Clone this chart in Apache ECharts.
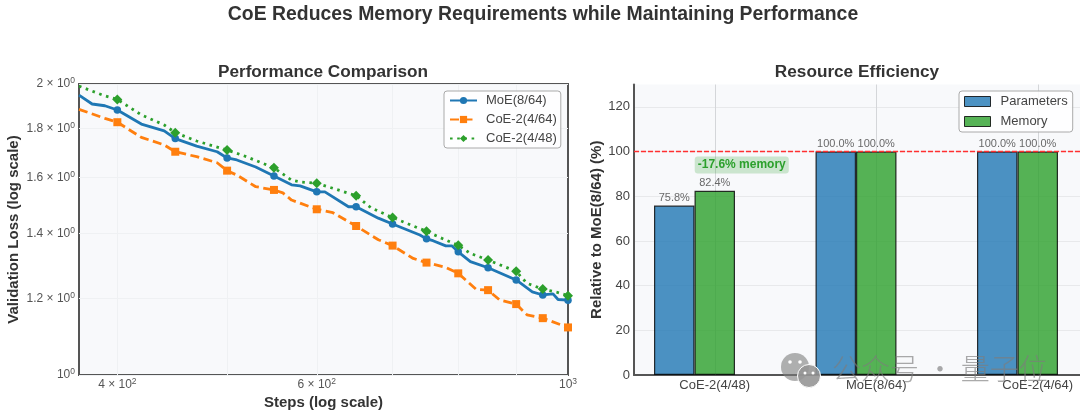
<!DOCTYPE html>
<html>
<head>
<meta charset="utf-8">
<style>
  html, body { margin: 0; background: #fff; }
  #chart { width: 1080px; height: 415px; }
</style>
<script src="https://cdn.jsdelivr.net/npm/echarts@6/dist/echarts.min.js"></script>
</head>
<body>
<div id="chart"></div>
<script>
// left panel
var moeSteps = [370, 380, 390, 400, 420, 440, 450, 470, 490, 500, 510, 530, 550, 570, 580, 600, 610, 640, 650, 680, 700, 740, 750, 760, 780, 790, 800, 820, 850, 900, 930, 950, 970, 980, 1000];
var moeLoss = [1.948, 1.907, 1.899, 1.880, 1.818, 1.789, 1.756, 1.725, 1.702, 1.677, 1.669, 1.641, 1.606, 1.573, 1.569, 1.547, 1.547, 1.493, 1.493, 1.453, 1.433, 1.396, 1.383, 1.377, 1.360, 1.360, 1.341, 1.310, 1.291, 1.254, 1.219, 1.210, 1.213, 1.197, 1.195];
var coe64Steps = [370, 390, 400, 420, 440, 450, 470, 490, 500, 510, 530, 550, 560, 570, 580, 600, 620, 650, 680, 700, 730, 750, 780, 800, 830, 850, 870, 900, 920, 950, 1000];
var coe64Loss = [1.883, 1.843, 1.826, 1.761, 1.730, 1.702, 1.682, 1.658, 1.627, 1.610, 1.566, 1.554, 1.543, 1.517, 1.506, 1.484, 1.472, 1.426, 1.380, 1.361, 1.320, 1.307, 1.292, 1.274, 1.226, 1.224, 1.196, 1.184, 1.154, 1.145, 1.120];
var coe48Steps = [370, 390, 400, 420, 440, 450, 470, 500, 520, 550, 570, 580, 600, 650, 670, 700, 750, 780, 800, 820, 850, 900, 920, 950, 980, 1000];
var coe48Loss = [1.990, 1.944, 1.928, 1.858, 1.814, 1.781, 1.746, 1.709, 1.682, 1.638, 1.591, 1.584, 1.579, 1.533, 1.489, 1.455, 1.408, 1.379, 1.362, 1.336, 1.315, 1.280, 1.244, 1.227, 1.217, 1.208];
var markerSteps = [400, 450, 500, 550, 600, 650, 700, 750, 800, 850, 900, 950, 1000];
var xTickValues = [400, 600, 1000];
var xTickLabels = ['4 × 10{s|2}', '6 × 10{s|2}', '10{s|3}'];
var xGridValues = [400, 500, 600, 700, 800, 900];
var yTickValues = [1, 1.2, 1.4, 1.6, 1.8, 2];
var yTickLabels = ['10{s|0}', '1.2 × 10{s|0}', '1.4 × 10{s|0}', '1.6 × 10{s|0}', '1.8 × 10{s|0}', '2 × 10{s|0}'];

// right panel
var models = ['CoE-2(4/48)', 'MoE(8/64)', 'CoE-2(4/64)'];
var parameters = [75.8, 100, 100];
var memory = [82.4, 100, 100];
var baseline = [[0, 100], [1, 100]];

var FONT = '"Liberation Sans", Arial, sans-serif';
var PLOT_BG = '#f8f9fb';
var GRID_LINE = '#eff1f3';

function lossPoints(steps, loss) {
  return steps.map(function (s, i) {
    var item = { value: [s, loss[i]] };
    if (markerSteps.indexOf(s) < 0) item.symbol = 'none';
    return item;
  });
}

function lossSeries(name, steps, loss, color, symbol, size, lineType) {
  return {
    name: name,
    type: 'line',
    xAxisIndex: 0,
    yAxisIndex: 0,
    data: lossPoints(steps, loss),
    symbol: symbol,
    symbolSize: size,
    showAllSymbol: true,
    clip: true,
    itemStyle: { color: color },
    lineStyle: { color: color, width: 2.8, type: lineType },
    animation: false
  };
}

function pickLabel(values, labels) {
  return function (v) {
    for (var i = 0; i < values.length; i++) {
      if (Math.abs(values[i] - v) < 1e-6 * values[i]) return labels[i];
    }
    return '';
  };
}

var supRich = { s: { fontSize: 8.5, color: '#555', fontFamily: FONT, padding: [0, 0, 6, 0] } };

var chart = echarts.init(document.getElementById('chart'), null, { renderer: 'canvas' });

chart.setOption({
  animation: false,
  backgroundColor: '#fff',
  textStyle: { fontFamily: FONT },
  title: [
    { text: 'CoE Reduces Memory Requirements while Maintaining Performance', left: 538, top: 0, textAlign: 'center', textStyle: { fontSize: 19.4, fontWeight: 'bold', color: '#333', fontFamily: FONT } },
    { text: 'Performance Comparison', left: 318, top: 59, textAlign: 'center', textStyle: { fontSize: 17.2, fontWeight: 'bold', color: '#333', fontFamily: FONT } },
    { text: 'Resource Efficiency', left: 852, top: 59, textAlign: 'center', textStyle: { fontSize: 17.2, fontWeight: 'bold', color: '#333', fontFamily: FONT } }
  ],
  legend: [
    {
      data: ['MoE(8/64)', 'CoE-2(4/64)', 'CoE-2(4/48)'],
      orient: 'vertical', left: 444, top: 91, padding: [3, 4, 3, 5], itemWidth: 27, itemHeight: 9, itemGap: 6,
      backgroundColor: 'rgba(255,255,255,0.85)', borderColor: '#aaa', borderWidth: 1, borderRadius: 3,
      textStyle: { fontSize: 13, color: '#444', fontFamily: FONT, padding: [0, 0, 0, 4] }
    },
    {
      data: [{ name: 'Parameters', icon: 'rect' }, { name: 'Memory', icon: 'rect' }],
      orient: 'vertical', left: 959, top: 91, padding: [4, 5, 4, 5], itemWidth: 26, itemHeight: 10, itemGap: 7,
      itemStyle: { borderWidth: 1 },
      backgroundColor: 'rgba(255,255,255,0.85)', borderColor: '#aaa', borderWidth: 1, borderRadius: 3,
      textStyle: { fontSize: 13, color: '#444', fontFamily: FONT, padding: [0, 0, 0, 5] }
    }
  ],
  grid: [
    { left: 79, top: 84, width: 489, height: 291, outerBoundsMode: 'none', show: true, backgroundColor: PLOT_BG, borderColor: '#555', borderWidth: 2 },
    { left: 634, top: 84.5, width: 484.5, height: 290.5, outerBoundsMode: 'none', show: true, backgroundColor: PLOT_BG, borderWidth: 0 }
  ],
  xAxis: [
    {
      gridIndex: 0, type: 'log', min: 370, max: 1000,
      name: 'Steps (log scale)', nameLocation: 'middle', nameGap: 20,
      nameTextStyle: { fontSize: 15, fontWeight: 'bold', color: '#333', fontFamily: FONT },
      axisLine: { show: false },
      axisTick: { show: false, customValues: xGridValues },
      axisLabel: { customValues: xTickValues, formatter: pickLabel(xTickValues, xTickLabels), rich: supRich, fontSize: 12, color: '#555', margin: 2, hideOverlap: false },
      splitLine: { show: true, lineStyle: { color: GRID_LINE, width: 1 } }
    },
    {
      gridIndex: 1, type: 'category', data: models,
      axisLine: { lineStyle: { color: '#555', width: 2 } },
      axisTick: { show: false },
      axisLabel: { fontSize: 13, color: '#444', margin: 4, interval: 0 },
      splitLine: { show: false }
    },
    // hidden axis so the 100% reference line can span the whole plot
    { gridIndex: 1, type: 'value', min: 0, max: 1, show: false, splitLine: { show: false } }
  ],
  yAxis: [
    {
      gridIndex: 0, type: 'log', min: 1, max: 2,
      name: 'Validation Loss (log scale)', nameLocation: 'middle', nameGap: 58,
      nameTextStyle: { fontSize: 15, fontWeight: 'bold', color: '#333', fontFamily: FONT },
      axisLine: { show: false },
      axisTick: { show: false, customValues: yTickValues },
      axisLabel: { customValues: yTickValues, formatter: pickLabel(yTickValues, yTickLabels), rich: supRich, fontSize: 12, color: '#555', margin: 4 },
      splitLine: { show: true, lineStyle: { color: GRID_LINE, width: 1 } }
    },
    {
      gridIndex: 1, type: 'value', min: 0, max: 130, interval: 20,
      name: 'Relative to MoE(8/64) (%)', nameLocation: 'middle', nameGap: 29,
      nameTextStyle: { fontSize: 15, fontWeight: 'bold', color: '#333', fontFamily: FONT },
      axisLine: { show: true, lineStyle: { color: '#555', width: 2 } },
      axisTick: { show: false },
      axisLabel: { fontSize: 13, color: '#444', margin: 4, showMaxLabel: false },
      splitLine: { show: true, showMaxLine: false, lineStyle: { color: '#e8e9eb', width: 1 } }
    }
  ],
  series: [
    lossSeries('MoE(8/64)', moeSteps, moeLoss, '#1f77b4', 'circle', 7.5, 'solid'),
    lossSeries('CoE-2(4/64)', coe64Steps, coe64Loss, '#ff7f0e', 'rect', 8, [9, 4.5]),
    lossSeries('CoE-2(4/48)', coe48Steps, coe48Loss, '#2ca02c', 'diamond', 10, [2.6, 4.6]),
    {
      name: 'Parameters', type: 'bar', xAxisIndex: 1, yAxisIndex: 1, data: parameters,
      barWidth: 40.5, barGap: 0,
      itemStyle: { color: '#1f77b4', opacity: 0.8, borderColor: '#000', borderWidth: 1.2 },
      label: { show: true, position: 'top', distance: 2, fontSize: 11, color: '#444', formatter: function (p) { return p.value.toFixed(1) + '%'; } },
      markPoint: {
        silent: true, symbol: 'rect', symbolSize: 1, itemStyle: { color: 'rgba(0,0,0,0)' }, z: 6,
        label: {
          show: true, position: 'inside', offset: [67.5, 0], formatter: '-17.6% memory',
          fontSize: 12, fontWeight: 'bold', color: '#2ca02c',
          backgroundColor: 'rgba(44,160,44,0.22)', borderRadius: 3, padding: [3, 3, 2, 3]
        },
        data: [{ coord: [models[0], 94] }]
      }
    },
    {
      name: 'Memory', type: 'bar', xAxisIndex: 1, yAxisIndex: 1, data: memory,
      barWidth: 40.5, barGap: 0,
      itemStyle: { color: '#2ca02c', opacity: 0.8, borderColor: '#000', borderWidth: 1.2 },
      label: { show: true, position: 'top', distance: 2, fontSize: 11, color: '#444', formatter: function (p) { return p.value.toFixed(1) + '%'; } },
      // vertical grid lines sit on the category centres, under the bars
      markLine: {
        silent: true, symbol: 'none', z: 1, label: { show: false },
        lineStyle: { color: '#d4d6d9', type: 'solid', width: 1 },
        data: models.map(function (m) { return { xAxis: m }; })
      }
    },
    {
      // empty third slot: it pushes the two real bars left so Memory lands on the tick, as in the source
      name: 'spacer', type: 'bar', xAxisIndex: 1, yAxisIndex: 1, data: [null, null, null],
      barWidth: 40.5, barGap: 0
    },
    {
      name: 'baseline', type: 'line', xAxisIndex: 2, yAxisIndex: 1, data: baseline,
      symbol: 'none', silent: true, z: 20,
      itemStyle: { color: '#ff3030' },
      lineStyle: { color: '#ff3030', type: [5, 2], width: 1.6, opacity: 1 }
    }
  ],
  // watermark on the source image
  graphic: [
    { type: 'circle', z: 50, shape: { cx: 795, cy: 367, r: 14 }, style: { fill: 'rgba(125,125,125,0.6)' } },
    { type: 'circle', z: 51, shape: { cx: 809, cy: 376, r: 11.5 }, style: { fill: 'rgba(150,150,150,0.9)', stroke: '#fff', lineWidth: 1 } },
    { type: 'circle', z: 52, shape: { cx: 790, cy: 362, r: 1.8 }, style: { fill: '#fff' } },
    { type: 'circle', z: 52, shape: { cx: 800, cy: 362, r: 1.8 }, style: { fill: '#fff' } },
    { type: 'circle', z: 52, shape: { cx: 805, cy: 373, r: 1.5 }, style: { fill: '#fff' } },
    { type: 'circle', z: 52, shape: { cx: 813, cy: 373, r: 1.5 }, style: { fill: '#fff' } },
    { type: 'text', z: 50, x: 832, y: 354, style: { text: '公众号 · 量子位', font: '300 29px "Noto Sans CJK SC"', fill: 'rgba(125,125,125,0.65)' } }
  ]
});
</script>
</body>
</html>
